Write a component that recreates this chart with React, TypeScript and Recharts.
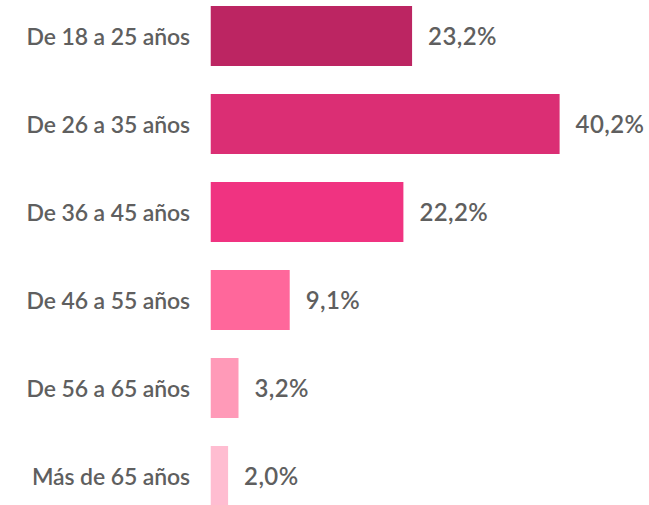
import React from "react";
import { BarChart, Bar, XAxis, YAxis, Cell, LabelList } from "recharts";

const categories = [
  "De 18 a 25 años",
  "De 26 a 35 años",
  "De 36 a 45 años",
  "De 46 a 55 años",
  "De 56 a 65 años",
  "Más de 65 años",
];
const values = [23.2, 40.2, 22.2, 9.1, 3.2, 2.0];
const colors = ["#BC2562", "#DB2E74", "#F03381", "#FF679B", "#FF9AB8", "#FFBDD1"];

const data = categories.map((c, i) => ({ name: c, value: values[i] }));

const fontFamily = "Lato, 'Open Sans', sans-serif";

const Tick = (props: any) => {
  const { x, y, payload } = props;
  return (
    <text
      x={x}
      y={y}
      dy={9}
      textAnchor="end"
      fill="#5f5f5f"
      fontSize={23}
      fontFamily={fontFamily}
      fontWeight={600}
      letterSpacing={-0.1}
    >
      {payload.value}
    </text>
  );
};

export default function App() {
  return (
    <div style={{ position: "absolute", left: 0, top: -8 }}>
      <BarChart
        width={649}
        height={528}
        data={data}
        layout="vertical"
        margin={{ top: 0, right: 0, bottom: 0, left: 0 }}
        barSize={60}
      >
        <XAxis type="number" domain={[-0.2, 50.5]} hide />
        <YAxis
          type="category"
          dataKey="name"
          width={209}
          axisLine={false}
          tickLine={false}
          tickSize={0}
          tickMargin={19}
          tick={<Tick />}
        />
        <Bar dataKey="value" isAnimationActive={false}>
          {data.map((d, i) => (
            <Cell key={d.name} fill={colors[i]} />
          ))}
          <LabelList
            dataKey="value"
            position="right"
            offset={16}
            formatter={(v: number) => v.toFixed(1).replace(".", ",") + "%"}
            style={{ fill: "#5f5f5f", fontSize: 24, fontFamily, fontWeight: 600, letterSpacing: 0.4 }}
          />
        </Bar>
      </BarChart>
    </div>
  );
}
